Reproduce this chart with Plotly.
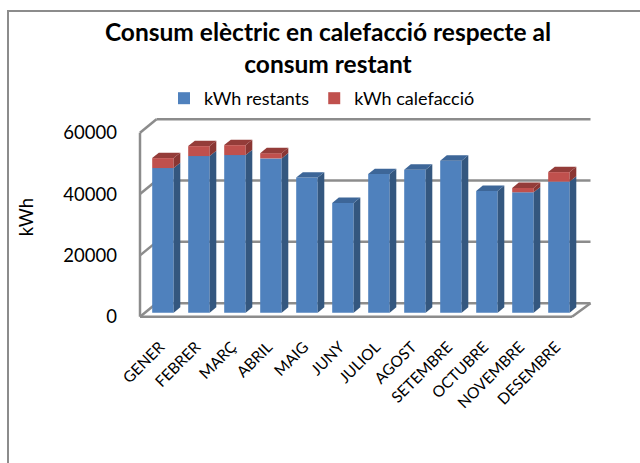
import plotly.graph_objects as go

# ---------------- data ----------------
months = ["GENER", "FEBRER", "MARÇ", "ABRIL", "MAIG", "JUNY", "JULIOL",
          "AGOST", "SETEMBRE", "OCTUBRE", "NOVEMBRE", "DESEMBRE"]
kwh_restants = [47150, 51060, 51380, 50300, 44030, 35770, 45200,
                46630, 49560, 39670, 39250, 42730]
kwh_calefaccio = [3250, 3250, 3250, 1700, 0, 0, 0,
                  0, 0, 0, 1400, 3100]
y_ticks = [0, 20000, 40000, 60000]

# ---------------- geometry (pixels) ----------------
W, H = 640, 463
PX0 = 140.0          # front-edge x of category -0.5
UNIT = 36.0          # px per category
Y0 = 316.7           # front-edge y of value 0
SY = 184.0 / 60000   # px per kWh
L, R, T, B = 134.0, 596.0, 112.0, 322.0

DEPTH_X, DEPTH_Y = 16.5, 13.5     # full floor depth (px)
BAR_F, BAR_B = 0.30, 0.70         # bar depth fractions (front/back)
BAR_W = 21.5                       # bar width px

def ux(px):  # pixel offset -> x data units
    return px / UNIT

def uy(px):  # pixel offset -> kWh
    return px / SY

xr = [(L - PX0) / UNIT - 0.5, (R - PX0) / UNIT - 0.5]
yr = [(Y0 - B) / SY, (Y0 - T) / SY]

def paper_x(px):
    return (px - L) / (R - L)

def paper_y(py):
    return (B - py) / (B - T)

n = len(months)
front_dx = ux(DEPTH_X * BAR_F)
front_dy = uy(DEPTH_Y * BAR_F)
bar_dx = ux(DEPTH_X * (BAR_B - BAR_F))
bar_dy = uy(DEPTH_Y * (BAR_B - BAR_F))
half_w = ux(BAR_W) / 2
xs = [i + front_dx for i in range(n)]
label_x = [x - ux(3) for x in xs]

BLUE, BLUE_SIDE, BLUE_TOP = "#4F81BD", "#34577F", "#3D6698"
RED, RED_SIDE, RED_TOP = "#C0504D", "#8A3633", "#943C39"
GRID = "#8C8C8C"

fig = go.Figure()
fig.add_trace(go.Bar(x=xs, y=kwh_restants, base=[front_dy] * n,
                     width=ux(BAR_W), marker=dict(color=BLUE, line=dict(width=0)),
                     name="kWh restants"))
fig.add_trace(go.Bar(x=xs, y=kwh_calefaccio,
                     base=[front_dy + v for v in kwh_restants],
                     width=ux(BAR_W), marker=dict(color=RED, line=dict(width=0)),
                     name="kWh calefacció"))

shapes = []
bx0 = -0.5 + ux(DEPTH_X)
bdy = uy(DEPTH_Y)
for v in y_ticks:
    shapes.append(dict(type="line", xref="x", yref="y", layer="below",
                       x0=bx0, x1=n - 0.5 + ux(DEPTH_X) + ux(2), y0=v + bdy, y1=v + bdy,
                       line=dict(color=GRID, width=2.5)))
    shapes.append(dict(type="line", xref="x", yref="y", layer="below",
                       x0=-0.5, x1=bx0, y0=v, y1=v + bdy,
                       line=dict(color=GRID, width=2.5)))
shapes.append(dict(type="line", xref="x", yref="y", layer="below",
                   x0=-0.5, x1=-0.5, y0=0, y1=y_ticks[-1],
                   line=dict(color=GRID, width=2.5)))
shapes.append(dict(type="line", xref="x", yref="y", layer="below",
                   x0=-0.5, x1=n - 0.5, y0=0, y1=0,
                   line=dict(color=GRID, width=2.5)))
shapes.append(dict(type="line", xref="x", yref="y", layer="below",
                   x0=n - 0.5, x1=n - 0.5 + ux(DEPTH_X) + ux(2), y0=0, y1=bdy,
                   line=dict(color=GRID, width=2.5)))

def poly(pts, color):
    d = "M " + " L ".join(f"{px},{py}" for px, py in pts) + " Z"
    return dict(type="path", path=d, xref="x", yref="y", layer="above",
                fillcolor=color, line=dict(width=0))

for i in range(n):
    xc = xs[i]
    xr_ = xc + half_w
    xl_ = xc - half_w
    b0 = front_dy
    b1 = front_dy + kwh_restants[i]
    b2 = b1 + kwh_calefaccio[i]
    shapes.append(poly([(xr_, b0), (xr_ + bar_dx, b0 + bar_dy),
                        (xr_ + bar_dx, b1 + bar_dy), (xr_, b1)], BLUE_SIDE))
    if kwh_calefaccio[i] > 0:
        shapes.append(poly([(xr_, b1), (xr_ + bar_dx, b1 + bar_dy),
                            (xr_ + bar_dx, b2 + bar_dy), (xr_, b2)], RED_SIDE))
        top_col = RED_TOP
    else:
        top_col = BLUE_TOP
    shapes.append(poly([(xl_, b2), (xr_, b2), (xr_ + bar_dx, b2 + bar_dy),
                        (xl_ + bar_dx, b2 + bar_dy)], top_col))

shapes.append(dict(type="rect", xref="paper", yref="paper",
                   x0=paper_x(8), x1=paper_x(700), y0=paper_y(520), y1=paper_y(11),
                   line=dict(color="#8C8C8C", width=2), fillcolor="rgba(0,0,0,0)",
                   layer="below"))

fig.update_layout(
    width=W, height=H,
    margin=dict(l=L, r=W - R, t=T, b=H - B, pad=0),
    paper_bgcolor="white", plot_bgcolor="rgba(0,0,0,0)",
    font=dict(family="Lato, sans-serif", color="black", size=18),
    barmode="overlay",
    shapes=shapes,
    title=dict(text="<b>Consum elèctric en calefacció respecte al<br>consum restant</b>",
               x=328 / W, xanchor="center", xref="container",
               y=1 - 41 / H, yanchor="top", yref="container",
               font=dict(family="Lato, sans-serif", size=24.5, color="black")),
    legend=dict(orientation="h", x=paper_x(322), xanchor="center",
                y=paper_y(80), yanchor="top",
                font=dict(size=18), itemwidth=30, traceorder="normal",
                bgcolor="rgba(0,0,0,0)"),
    xaxis=dict(range=xr, tickvals=label_x, ticktext=months, tickangle=-45,
               showgrid=False, zeroline=False, showline=False, ticks="",
               tickfont=dict(size=15.5), ticklabelstandoff=12, fixedrange=True),
    yaxis=dict(range=yr, tickvals=y_ticks, ticktext=[str(v) for v in y_ticks],
               showgrid=False, zeroline=False, showline=False, ticks="",
               tickfont=dict(size=18.5), ticklabelstandoff=16,
               title=dict(text="kWh", font=dict(size=18.5), standoff=24),
               fixedrange=True),
    showlegend=True,
)

fig.write_html("out.html")
